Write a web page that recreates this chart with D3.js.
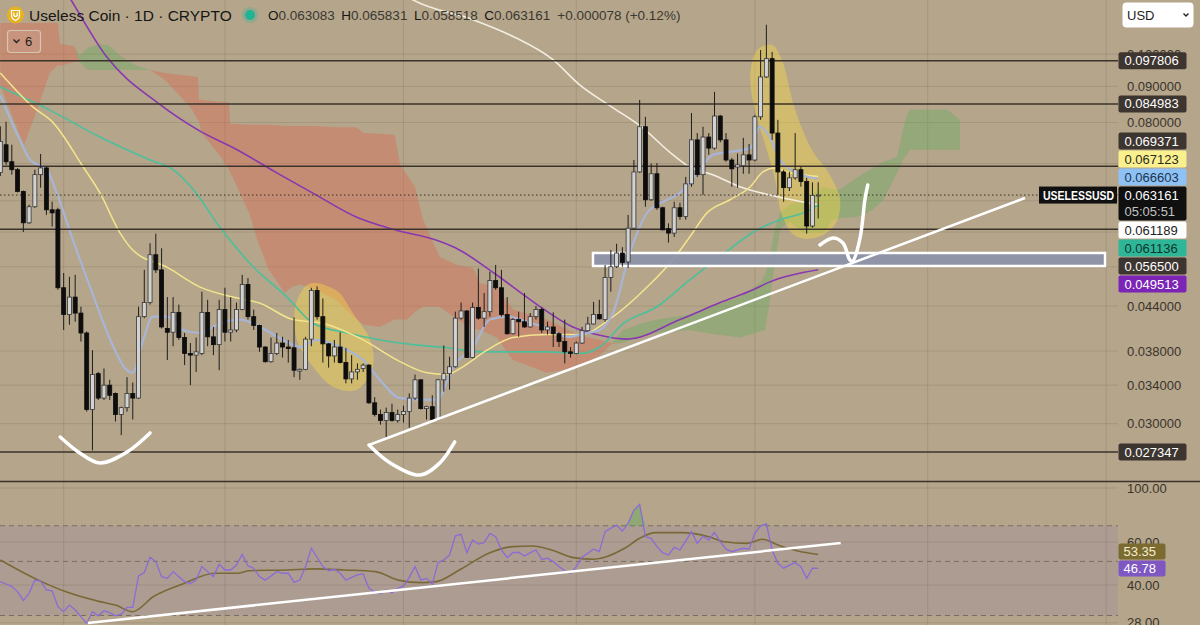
<!DOCTYPE html>
<html>
<head>
<meta charset="utf-8">
<script src="https://cdn.jsdelivr.net/npm/d3@7"></script>
<style>
	html, body { margin: 0; padding: 0; width: 1200px; height: 625px; overflow: hidden; background: #b4a58b; }
	#chart svg { display: block; font-family: 'Liberation Sans', Arial, sans-serif; }
</style>
</head>
<body>
<div id="chart"></div>
<script>
//data
const opens = [0.0680,0.0744,0.0704,0.0686,0.0639,0.0577,0.0608,0.0675,0.0690,0.0602,
	0.0602,0.0467,0.0428,0.0453,0.0430,0.0403,0.0314,0.0353,0.0326,0.0340,
	0.0331,0.0309,0.0316,0.0331,0.0326,0.0425,0.0445,0.0520,0.0495,0.0409,
	0.0404,0.0431,0.0397,0.0377,0.0375,0.0377,0.0431,0.0398,0.0388,0.0435,
	0.0404,0.0407,0.0435,0.0472,0.0425,0.0413,0.0385,0.0367,0.0377,0.0390,
	0.0385,0.0384,0.0356,0.0358,0.0395,0.0463,0.0425,0.0389,0.0374,0.0385,
	0.0366,0.0347,0.0355,0.0359,0.0363,0.0321,0.0309,0.0303,0.0311,0.0303,
	0.0309,0.0312,0.0326,0.0346,0.0315,0.0317,0.0304,0.0346,0.0353,0.0361,
	0.0423,0.0433,0.0372,0.0438,0.0423,0.0432,0.0478,0.0467,0.0428,0.0402,
	0.0421,0.0418,0.0411,0.0425,0.0435,0.0407,0.0411,0.0402,0.0392,0.0379,
	0.0377,0.0390,0.0406,0.0415,0.0428,0.0421,0.0483,0.0500,0.0523,0.0508,
	0.0567,0.0681,0.0789,0.0622,0.0677,0.0606,0.0566,0.0558,0.0606,0.0589,
	0.0655,0.0756,0.0675,0.0763,0.0736,0.0817,0.0756,0.0708,0.0692,0.0695,
	0.0720,0.0708,0.0815,0.0928,0.0985,0.0773,0.0681,0.0647,0.0668,0.0686,
	0.0660,0.0571,0.063083];
const highs = [0.0790,0.0802,0.0744,0.0690,0.0641,0.0612,0.0686,0.0722,0.0692,0.0618,
	0.0606,0.0490,0.0484,0.0487,0.0439,0.0405,0.0381,0.0355,0.0359,0.0346,
	0.0332,0.0317,0.0349,0.0343,0.0439,0.0495,0.0540,0.0557,0.0531,0.0453,
	0.0453,0.0442,0.0403,0.0390,0.0397,0.0461,0.0449,0.0411,0.0449,0.0467,
	0.0453,0.0445,0.0487,0.0482,0.0435,0.0414,0.0386,0.0397,0.0403,0.0398,
	0.0394,0.0424,0.0359,0.0398,0.0467,0.0469,0.0451,0.0390,0.0394,0.0404,
	0.0384,0.0375,0.0365,0.0365,0.0364,0.0327,0.0314,0.0316,0.0320,0.0314,
	0.0318,0.0331,0.0352,0.0346,0.0318,0.0329,0.0347,0.0387,0.0373,0.0432,
	0.0445,0.0434,0.0445,0.0497,0.0459,0.0492,0.0503,0.0495,0.0453,0.0423,
	0.0432,0.0459,0.0430,0.0440,0.0438,0.0418,0.0431,0.0404,0.0421,0.0385,
	0.0392,0.0411,0.0425,0.0446,0.0449,0.0503,0.0528,0.0539,0.0533,0.0592,
	0.0708,0.0861,0.0815,0.0700,0.0701,0.0608,0.0576,0.0618,0.0616,0.0670,
	0.0825,0.0773,0.0789,0.0773,0.0884,0.0820,0.0773,0.0713,0.0723,0.0761,
	0.0746,0.0820,0.1013,0.1100,0.1007,0.0807,0.0686,0.0681,0.0773,0.0692,
	0.0668,0.0658,0.065831];
const lows = [0.0672,0.0697,0.0675,0.0637,0.0560,0.0575,0.0606,0.0647,0.0592,0.0570,
	0.0464,0.0407,0.0414,0.0418,0.0392,0.0312,0.0275,0.0324,0.0324,0.0324,
	0.0302,0.0289,0.0312,0.0304,0.0325,0.0423,0.0442,0.0490,0.0409,0.0369,
	0.0386,0.0394,0.0363,0.0340,0.0355,0.0375,0.0386,0.0375,0.0357,0.0392,
	0.0392,0.0404,0.0434,0.0421,0.0407,0.0379,0.0366,0.0366,0.0375,0.0372,
	0.0366,0.0349,0.0346,0.0357,0.0386,0.0421,0.0366,0.0360,0.0366,0.0365,
	0.0342,0.0342,0.0346,0.0355,0.0320,0.0307,0.0299,0.0287,0.0302,0.0301,
	0.0301,0.0296,0.0324,0.0314,0.0304,0.0303,0.0303,0.0333,0.0335,0.0360,
	0.0421,0.0372,0.0371,0.0421,0.0411,0.0425,0.0464,0.0425,0.0401,0.0401,
	0.0398,0.0410,0.0410,0.0421,0.0403,0.0401,0.0385,0.0385,0.0365,0.0372,
	0.0376,0.0389,0.0405,0.0414,0.0421,0.0418,0.0461,0.0498,0.0500,0.0498,
	0.0564,0.0679,0.0608,0.0620,0.0602,0.0563,0.0541,0.0551,0.0583,0.0583,
	0.0649,0.0670,0.0632,0.0720,0.0732,0.0750,0.0704,0.0649,0.0647,0.0677,
	0.0677,0.0705,0.0807,0.0925,0.0756,0.0632,0.0618,0.0640,0.0664,0.0649,
	0.0557,0.0568,0.058518];
const closes = [0.0752,0.0704,0.0686,0.0639,0.0577,0.0608,0.0675,0.0690,0.0602,0.0596,
	0.0467,0.0428,0.0453,0.0430,0.0403,0.0314,0.0352,0.0326,0.0340,0.0329,
	0.0309,0.0316,0.0331,0.0326,0.0425,0.0445,0.0520,0.0495,0.0411,0.0404,
	0.0431,0.0397,0.0377,0.0375,0.0379,0.0431,0.0398,0.0388,0.0435,0.0404,
	0.0407,0.0435,0.0472,0.0425,0.0413,0.0385,0.0367,0.0377,0.0390,0.0385,
	0.0383,0.0357,0.0358,0.0395,0.0463,0.0425,0.0389,0.0374,0.0385,0.0366,
	0.0347,0.0355,0.0358,0.0363,0.0321,0.0309,0.0303,0.0311,0.0303,0.0309,
	0.0312,0.0326,0.0346,0.0315,0.0317,0.0304,0.0346,0.0353,0.0361,0.0423,
	0.0433,0.0372,0.0438,0.0423,0.0432,0.0478,0.0467,0.0428,0.0402,0.0421,
	0.0418,0.0411,0.0425,0.0435,0.0407,0.0411,0.0402,0.0392,0.0379,0.0377,
	0.0390,0.0406,0.0415,0.0428,0.0422,0.0483,0.0500,0.0523,0.0507,0.0567,
	0.0681,0.0789,0.0622,0.0677,0.0606,0.0564,0.0558,0.0606,0.0589,0.0655,
	0.0756,0.0675,0.0763,0.0736,0.0817,0.0756,0.0708,0.0688,0.0697,0.0720,
	0.0708,0.0815,0.0928,0.0985,0.0773,0.0681,0.0647,0.0668,0.0686,0.0660,
	0.0571,0.0631,0.063161];

const rsiValues = [41.3,40.4,39.4,37.6,34.5,37.0,41.9,41.5,38.2,37.9,
	32.6,31.1,33.1,31.6,29.6,27.9,31.1,29.9,31.4,30.8,
	29.9,30.4,32.4,32.4,43.6,45.0,52.0,49.9,43.3,42.6,
	45.4,43.3,41.3,40.6,41.9,47.6,45.4,43.3,48.7,46.1,
	46.1,48.3,53.4,47.9,46.9,43.3,41.9,43.6,45.4,44.7,
	44.7,41.0,41.9,47.6,56.6,52.0,47.6,45.8,46.4,44.7,
	41.9,43.0,44.0,44.4,38.8,37.4,36.8,38.2,37.2,38.8,
	39.6,43.0,47.6,41.9,42.6,40.4,49.4,50.7,53.1,63.7,
	64.6,54.3,61.2,58.9,59.7,65.2,63.1,55.7,51.8,54.3,
	54.5,52.6,54.3,55.7,51.0,51.5,49.9,47.6,45.7,44.7,
	47.6,52.0,54.0,56.2,54.8,66.2,68.4,70.5,66.6,71.6,
	81.2,85.7,63.1,62.2,57.5,54.3,53.1,57.1,55.7,60.6,
	66.2,59.3,63.5,61.2,65.8,60.2,56.1,54.8,55.7,56.6,
	56.1,65.2,69.9,71.2,55.7,49.1,46.9,48.3,49.4,47.6,
	42.6,46.9,46.78];
const rsiMA = [[0,50.7],[6.6,41.9],[11.3,37.6],[17.3,34.2],[20,33.1],[23,31.1],[26.6,35.9],[31.9,40.6],
	[37.2,44.7],[41.2,44.7],[43.2,45.8],[49.8,46.1],[54.5,46.6],[59.8,46.1],[65.1,45.4],[69.1,41.9],
	[73.1,40.9],[75.7,41.3],[79.7,46.1],[85,54.3],[89,57.5],[92.4,57.8],[95.7,55.7],[99.5,51.8],
	[103,51.0],[108.4,56.6],[111,62.2],[113.7,65.6],[118.4,65.6],[123,63.1],[125.7,60.2],[129.7,59.3],
	[132.3,61.6],[135,58.4],[138.3,55.3],[142,53.35]];

// moving averages: [bar index, price]
const blueMA = [[0,0.0875],[3.4,0.0756],[5.2,0.0708],[8.1,0.0686],[9.8,0.0636],[12.6,0.0546],[15.6,0.0468],
	[19.1,0.0394],[22,0.0357],[23,0.0354],[24.8,0.0394],[26.5,0.0425],[29,0.0425],[31.7,0.0407],[34.7,0.0403],
	[38.1,0.0416],[41.6,0.0421],[45.1,0.0411],[48.1,0.0398],[50.8,0.0388],[52,0.0385],[55,0.0394],[59,0.0385],
	[63,0.0369],[65.9,0.0346],[69.4,0.0326],[75.8,0.0324],[78.6,0.0361],[82.1,0.0385],[85,0.0421],[88,0.0425],
	[91.4,0.0418],[95,0.0409],[98.4,0.0398],[101.9,0.0403],[104.1,0.0407],[106.4,0.0431],[109.3,0.0523],
	[112.3,0.0596],[115.1,0.0618],[118,0.0636],[121,0.0679],[123.7,0.0720],[126.7,0.0727],[130.2,0.0736],
	[131.9,0.0789],[133.6,0.0763],[135.4,0.0708],[138.3,0.0679],[142,0.066603]];
const yellowMA = [[0,0.0940],[5.7,0.0841],[9.2,0.0799],[14.4,0.0692],[17.3,0.0636],[20.8,0.0558],[23,0.0528],
	[29,0.0499],[34.7,0.0468],[40.4,0.0453],[45.1,0.0444],[50.8,0.0421],[56,0.0416],[63,0.0394],[68.9,0.0369],
	[74.1,0.0354],[77.5,0.0352],[80.3,0.0361],[84.5,0.0381],[89,0.0397],[94.9,0.0401],[100.6,0.0401],
	[106.4,0.0425],[112.3,0.0468],[116.8,0.0512],[119.7,0.0551],[122.7,0.0596],[126.7,0.0622],[130.2,0.0649],
	[132.4,0.0681],[134.5,0.0690],[137.1,0.0679],[142,0.067123]];
const tealMA = [[0,0.0898],[8.6,0.0833],[17.3,0.0763],[26,0.0708],[30,0.0686],[33.5,0.0643],[38.1,0.0569],
	[43.9,0.0500],[49.8,0.0453],[54.3,0.0416],[60.2,0.0403],[66,0.0394],[71.7,0.0388],[77.6,0.0384],[83.3,0.0379],
	[95,0.0379],[100.6,0.0377],[104.1,0.0385],[108.1,0.0415],[114,0.0439],[119.7,0.0479],[125.5,0.0521],
	[131.4,0.0564],[135.4,0.0583],[139.4,0.0596],[142,0.061136]];
const purpleMA = [[10,0.128],[12.3,0.1192],[18.5,0.0990],[27.4,0.0852],[34.3,0.0781],[41.1,0.0732],[48,0.0679],
	[54.8,0.0632],[61.8,0.0588],[68.5,0.0564],[75.5,0.0546],[79,0.0532],[85.7,0.0490],[92.7,0.0445],[99.4,0.0411],
	[104.1,0.0400],[108.8,0.0395],[118,0.0421],[125,0.0445],[130.7,0.0464],[133.6,0.0476],[142,0.049513]];
const whiteMA = [[66,0.128],[71.7,0.1192],[82.2,0.1117],[89.2,0.1057],[96,0.0981],[100.6,0.0904],[106.4,0.0839],
	[111.1,0.0791],[116.8,0.0720],[119.7,0.0692],[123.7,0.0675],[128.4,0.0649],[134.2,0.0630],[142,0.061189]];

// ichimoku cloud vertices
const cloudIdx = [0,2,4.1,6.4,8.6,10,10.4,12.8,13.8,15.2,17.3,19,20.8,23.4,26,28.6,33,34.3,34.5,35,
	38.3,39.7,39.9,41.1,43.2,44.6,46.6,49.4,50.6,52,54.8,58.3,61.8,63.1,65.9,68.5,69.4,70.6,72,73.4,
	76.3,79.3,82.1,83.3,86.2,89,94.9,100.6,104.1,106.2,108.1,111.1,114,119.7,124.4,128.4,131.9,132.8,133.6,134.5,
	135.4,137.1,139.4,142.8,144.6,145.8,148.7,151.5,153.3,155.7,156.7,157.4,157.9,164.4,166.6];
const spanA = [0.0904,0.0820,0.0744,0.0834,0.0940,0.0965,0.0962,0.0974,0.0994,0.1020,
	0.1033,0.1026,0.0994,0.0965,0.0949,0.0919,0.0841,0.0807,0.0801,0.0773,
	0.0715,0.0686,0.0681,0.0649,0.0596,0.0546,0.0495,0.0459,0.0468,0.0472,
	0.0464,0.0449,0.0421,0.0414,0.0411,0.0421,0.0421,0.0421,0.0432,0.0439,
	0.0439,0.0421,0.0409,0.0407,0.0397,0.0369,0.0354,0.0361,0.0375,0.0389,
	0.0407,0.0415,0.0421,0.0428,0.0442,0.0453,0.0474,0.0487,0.0516,0.0567,
	0.0598,0.0612,0.0622,0.0649,0.0643,0.0643,0.0668,0.0690,0.0704,0.0715,
	0.0781,0.0820,0.0834,0.0834,0.0807];
const spanB = [0.1106,0.1106,0.1106,0.1106,0.1106,0.1106,0.1033,0.1026,0.0974,0.0949,
	0.0949,0.0949,0.0949,0.0949,0.0949,0.0940,0.0931,0.0928,0.0861,0.0861,
	0.0855,0.0855,0.0796,0.0796,0.0794,0.0794,0.0794,0.0791,0.0791,0.0791,
	0.0791,0.0788,0.0788,0.0773,0.0771,0.0768,0.0697,0.0675,0.0649,0.0583,
	0.0516,0.0503,0.0498,0.0474,0.0468,0.0435,0.0421,0.0400,0.0394,0.0390,
	0.0390,0.0398,0.0403,0.0407,0.0401,0.0397,0.0405,0.0407,0.0449,0.0508,
	0.0567,0.0579,0.0558,0.0558,0.0583,0.0586,0.0588,0.0602,0.0622,0.0679,
	0.0708,0.0720,0.0732,0.0732,0.0732];

// user drawings: [bar index, price]
const horizontalLevels = [0.097806, 0.084983, 0.069371, 0.0565, 0.027347];
const highlightA = [[53.2,0.0471],[51.2,0.0439],[51.5,0.0394],[54.3,0.0361],[57.8,0.0338],[61.9,0.0335],
	[64.7,0.0361],[64.2,0.0394],[61.2,0.0430],[58.9,0.0459],[57.2,0.0468],[55.2,0.0474]];
const highlightB = [[131.4,0.1013],[134,0.1030],[135.7,0.0981],[138,0.0834],[140.9,0.0732],[144,0.0675],
	[145.8,0.0622],[144.9,0.0573],[141.4,0.0549],[138,0.0553],[135.7,0.0592],[134.5,0.0664],[132.8,0.0744],
	[131,0.0834],[130.2,0.0934]];
const trendLine = [[64,0.02798],[177.9,0.06256]];
const supportZone = [[102.9,0.0523],[191.8,0.05013]];
const smileA = [[10.4,0.02872],[13.8,0.02726],[17.3,0.02639],[22,0.02735],[26,0.0291]];
const smileB = [[64,0.02798],[67.7,0.02639],[72.9,0.02537],[76.3,0.02639],[78.9,0.02826]];
const checkMark = [[142.3,0.05368],[144.6,0.05492],[146.3,0.05403],[147.5,0.05112],[148,0.05095],
	[149.3,0.0551],[150.1,0.06215],[150.6,0.06527]];
const rsiTrend = [[15.2,27.95],[145.9,59.49]];

// axis
const priceTicks = [0.1, 0.09, 0.08, 0.07, 0.062, 0.056, 0.05, 0.044, 0.038, 0.034, 0.03];
const rsiTicks = [100, 60, 40, 28];
const rsiLevels = [70, 50, 30];
const monthStarts = [11, 39, 70, 100, 131, 161, 192];
const labelValues = [0.097806, 0.084983, 0.069371, 0.067123, 0.066603, 0.061189, 0.061136, 0.0565, 0.049513, 0.027347];
const labelColors = [
	['#3d3530', '#ffffff'], ['#3d3530', '#ffffff'], ['#3d3530', '#ffffff'],
	['#fbf08e', '#2a2a22'], ['#8fc2f4', '#1b3552'], ['#ffffff', '#222222'],
	['#2fb597', '#0d352b'], ['#3d3530', '#ffffff'], ['#7b24b6', '#ffffff'], ['#3d3530', '#ffffff'],
];

render();

function render() {
	let svg = d3.select('#chart')
		.append('svg')
		.attr('width', 1200)
		.attr('height', 625);

	const x = d3.scaleLinear().domain([0, 142]).range([0.3, 818.2]);
	const y = d3.scaleLog().domain([0.03, 0.1]).range([423.6, 54]);
	const yRsi = d3.scaleLog().domain([28, 100]).range([622.8, 488]);
	const plotRight = 1118;
	const lastIdx = closes.length - 1;
	const lastClose = closes[lastIdx];

	svg.append('rect').attr('width', 1200).attr('height', 625).attr('fill', '#b4a58b');

	let defs = svg.append('defs');
	defs.append('clipPath').attr('id', 'price-clip')
		.append('rect').attr('x', 0).attr('y', 0).attr('width', plotRight).attr('height', 481);
	defs.append('clipPath').attr('id', 'rsi-clip')
		.append('rect').attr('x', 0).attr('y', 482).attr('width', plotRight).attr('height', 143);

	//grid
	let grid = svg.append('g').attr('stroke', 'rgba(70,55,35,0.13)').attr('stroke-width', 1);
	grid.selectAll('.vgrid').data(monthStarts).enter().append('line')
		.attr('x1', (d) => x(d)).attr('x2', (d) => x(d))
		.attr('y1', 0).attr('y2', 625);
	grid.selectAll('.hgrid').data(priceTicks).enter().append('line')
		.attr('x1', 0).attr('x2', plotRight)
		.attr('y1', (d) => y(d)).attr('y2', (d) => y(d));
	grid.selectAll('.rgrid').data(rsiTicks).enter().append('line')
		.attr('x1', 0).attr('x2', plotRight)
		.attr('y1', (d) => yRsi(d)).attr('y2', (d) => yRsi(d));

	//price pane
	let pane = svg.append('g').attr('clip-path', 'url(#price-clip)');

	const cloudRows = cloudIdx.map((d, k) => [d, spanA[k], spanB[k]]);
	const cloud = (pick) => d3.area()
		.x((d) => x(d[0]))
		.y0((d) => y(d[2]))
		.y1((d) => y(pick(d[1], d[2])));
	pane.append('path').attr('d', cloud(Math.min)(cloudRows))
		.attr('fill', '#e4614a').attr('fill-opacity', 0.36);
	pane.append('path').attr('d', cloud(Math.max)(cloudRows))
		.attr('fill', '#4caf50').attr('fill-opacity', 0.3);

	const blob = d3.line().x((d) => x(d[0])).y((d) => y(d[1])).curve(d3.curveCatmullRomClosed);
	pane.selectAll('.highlight').data([highlightA, highlightB]).enter().append('path')
		.attr('d', blob)
		.attr('fill', '#ffe040')
		.attr('fill-opacity', 0.38);

	const maLine = d3.line().x((d) => x(d[0])).y((d) => y(d[1])).curve(d3.curveMonotoneX);
	const averages = [
		[whiteMA, '#f3eee0', 1.6],
		[purpleMA, '#8a37b0', 1.6],
		[tealMA, '#4cbf9b', 1.6],
		[yellowMA, '#f4e48c', 1.5],
		[blueMA, '#a8b5d6', 2.2],
	];
	pane.selectAll('.ma').data(averages).enter().append('path')
		.attr('d', (d) => maLine(d[0]))
		.attr('fill', 'none')
		.attr('stroke', (d) => d[1])
		.attr('stroke-width', (d) => d[2]);

	pane.selectAll('.level').data(horizontalLevels).enter().append('line')
		.attr('x1', 0).attr('x2', plotRight)
		.attr('y1', (d) => y(d)).attr('y2', (d) => y(d))
		.attr('stroke', '#3b332b')
		.attr('stroke-width', 1.5);

	pane.append('line')
		.attr('x1', 0).attr('x2', plotRight)
		.attr('y1', y(lastClose)).attr('y2', y(lastClose))
		.attr('stroke', '#3b332b')
		.attr('stroke-width', 1)
		.attr('stroke-dasharray', '1.5,2.5');

	pane.append('rect')
		.attr('x', x(supportZone[0][0]))
		.attr('y', y(supportZone[0][1]))
		.attr('width', x(supportZone[1][0]) - x(supportZone[0][0]))
		.attr('height', y(supportZone[1][1]) - y(supportZone[0][1]))
		.attr('fill', '#8d92a9')
		.attr('fill-opacity', 0.92)
		.attr('stroke', '#ffffff')
		.attr('stroke-width', 2.5);

	//candles
	let candles = pane.selectAll('.candle').data(d3.range(closes.length)).enter().append('g');
	candles.append('line')
		.attr('x1', (i) => x(i)).attr('x2', (i) => x(i))
		.attr('y1', (i) => y(highs[i])).attr('y2', (i) => y(lows[i]))
		.attr('stroke', '#1e1e1e')
		.attr('stroke-width', 1);
	candles.append('rect')
		.attr('x', (i) => x(i) - 2)
		.attr('width', 4)
		.attr('y', (i) => y(Math.max(opens[i], closes[i])))
		.attr('height', (i) => Math.max(1, Math.abs(y(opens[i]) - y(closes[i]))))
		.attr('fill', (i) => (closes[i] >= opens[i] ? '#d2d2d2' : '#0d0d0d'))
		.attr('stroke', (i) => (closes[i] >= opens[i] ? '#363636' : '#0d0d0d'))
		.attr('stroke-width', 0.8);

	//drawings
	const straight = d3.line().x((d) => x(d[0])).y((d) => y(d[1]));
	const curved = d3.line().x((d) => x(d[0])).y((d) => y(d[1])).curve(d3.curveCatmullRom);
	pane.append('path').attr('d', straight(trendLine))
		.attr('stroke', '#ffffff').attr('stroke-width', 2.5).attr('fill', 'none');
	pane.selectAll('.pen').data([smileA, smileB, checkMark]).enter().append('path')
		.attr('d', curved)
		.attr('fill', 'none')
		.attr('stroke', '#ffffff')
		.attr('stroke-width', 3.5)
		.attr('stroke-linecap', 'round')
		.attr('stroke-linejoin', 'round');

	//rsi pane
	let rsi = svg.append('g').attr('clip-path', 'url(#rsi-clip)');
	rsi.append('rect')
		.attr('x', 0).attr('width', plotRight)
		.attr('y', yRsi(70)).attr('height', yRsi(30) - yRsi(70))
		.attr('fill', '#7e57c2').attr('fill-opacity', 0.12);
	rsi.selectAll('.band').data(rsiLevels).enter().append('line')
		.attr('x1', 0).attr('x2', plotRight)
		.attr('y1', (d) => yRsi(d)).attr('y2', (d) => yRsi(d))
		.attr('stroke', '#786e60')
		.attr('stroke-width', 1)
		.attr('stroke-dasharray', '5,4');

	rsi.append('path')
		.attr('d', d3.area()
			.x((d, i) => x(i))
			.y0(yRsi(70))
			.y1((d) => yRsi(Math.max(d, 70)))(rsiValues))
		.attr('fill', '#4caf50').attr('fill-opacity', 0.35);

	rsi.append('path')
		.attr('d', d3.line().x((d) => x(d[0])).y((d) => yRsi(d[1])).curve(d3.curveMonotoneX)(rsiMA))
		.attr('fill', 'none').attr('stroke', '#7a6936').attr('stroke-width', 1.6);
	rsi.append('path')
		.attr('d', d3.line().x((d, i) => x(i)).y((d) => yRsi(d))(rsiValues))
		.attr('fill', 'none').attr('stroke', '#8a6bd8').attr('stroke-width', 1.3);
	rsi.append('path')
		.attr('d', d3.line().x((d) => x(d[0])).y((d) => yRsi(d[1]))(rsiTrend))
		.attr('fill', 'none').attr('stroke', '#ffffff').attr('stroke-width', 2.5);

	svg.append('line')
		.attr('x1', 0).attr('x2', 1200).attr('y1', 481.5).attr('y2', 481.5)
		.attr('stroke', '#3b332b').attr('stroke-width', 1.5);

	// stacked labels, pushed away from the live price label
	const labelH = 17;
	const curY = y(lastClose);
	const curTop = curY - 8.5;
	const curBottom = curTop + 34;
	let marks = labelValues.map((v, k) => ({ v: v, k: k }));
	let edge = curTop;
	marks.filter((d) => d.v > lastClose).sort((a, b) => a.v - b.v).forEach((d) => {
		d.cy = Math.min(y(d.v), edge - 1 - labelH / 2);
		edge = d.cy - labelH / 2;
	});
	edge = curBottom;
	marks.filter((d) => d.v < lastClose).sort((a, b) => b.v - a.v).forEach((d) => {
		d.cy = Math.max(y(d.v), edge + 1 + labelH / 2);
		edge = d.cy + labelH / 2;
	});

	const rsiLast = rsiValues[rsiValues.length - 1];
	const maLast = rsiMA[rsiMA.length - 1][1];
	const rsiY = yRsi(rsiLast);
	const maY = Math.min(yRsi(maLast), rsiY - 8 - 1 - 8);

	// tick labels sitting mostly under a label are hidden, as the platform does
	let boxes = marks.map((d) => [d.cy - labelH / 2, d.cy + labelH / 2]);
	boxes.push([curTop, curBottom], [maY - 8, maY + 8], [rsiY - 8, rsiY + 8]);
	const covered = (ty) => boxes.some((b) => ty > b[0] + 3 && ty < b[1] - 3);

	//axis
	let axis = svg.append('g').style('font-size', '13px');
	axis.selectAll('.ptick').data(priceTicks.filter((d) => !covered(y(d)))).enter().append('text')
		.attr('x', 1127).attr('y', (d) => y(d) + 4.5)
		.attr('fill', '#3a342c')
		.text(d3.format('.6f'));
	axis.selectAll('.rtick').data(rsiTicks.filter((d) => !covered(yRsi(d)))).enter().append('text')
		.attr('x', 1127).attr('y', (d) => yRsi(d) + 4.5)
		.attr('fill', '#3a342c')
		.text(d3.format('.2f'));

	let tags = axis.selectAll('.tag').data(marks).enter().append('g');
	tags.append('rect')
		.attr('x', 1118.5).attr('y', (d) => d.cy - labelH / 2)
		.attr('width', 68).attr('height', labelH).attr('rx', 2)
		.attr('fill', (d) => labelColors[d.k][0]);
	tags.append('text')
		.attr('x', 1124.5).attr('y', (d) => d.cy + 4.5)
		.attr('fill', (d) => labelColors[d.k][1])
		.text((d) => d3.format('.6f')(d.v));

	axis.append('rect')
		.attr('x', 1118.5).attr('y', curTop).attr('width', 68).attr('height', 34).attr('rx', 2)
		.attr('fill', '#101010');
	axis.append('text').attr('x', 1124.5).attr('y', curY + 4.5).attr('fill', '#ffffff')
		.text(d3.format('.6f')(lastClose));
	axis.append('text').attr('x', 1124.5).attr('y', curY + 21).attr('fill', '#c4c4c4')
		.text('05:05:51');
	axis.append('rect')
		.attr('x', 1039).attr('y', curTop).attr('width', 78).attr('height', 17)
		.attr('fill', '#101010');
	axis.append('text').attr('x', 1043).attr('y', curY + 4.5).attr('fill', '#ffffff')
		.style('font-size', '12px').style('font-weight', 'bold')
		.attr('textLength', 71).attr('lengthAdjust', 'spacingAndGlyphs')
		.text('USELESSUSD');

	[[maY, maLast, '#7b6b31', '#f5eecf'], [rsiY, rsiLast, '#7e57c2', '#ffffff']].forEach((d) => {
		axis.append('rect')
			.attr('x', 1118.5).attr('y', d[0] - 8).attr('width', 47).attr('height', 16).attr('rx', 2)
			.attr('fill', d[2]);
		axis.append('text').attr('x', 1123.5).attr('y', d[0] + 4.5).attr('fill', d[3])
			.text(d3.format('.2f')(d[1]));
	});

	//header
	let head = svg.append('g');
	head.append('circle').attr('cx', 15.5).attr('cy', 15).attr('r', 8.5).attr('fill', '#e8b21f');
	head.append('path')
		.attr('d', 'M11.5,10.5 L19.5,10.5 L19.5,15 Q19.5,19 15.5,20.5 Q11.5,19 11.5,15 Z M13.8,12.5 L13.8,15.5 Q15.5,17.5 17.2,15.5 L17.2,12.5')
		.attr('fill', 'none').attr('stroke', '#ffffff').attr('stroke-width', 1.2);
	head.append('text').attr('x', 29).attr('y', 20.5)
		.style('font-size', '15.5px').attr('fill', '#161616')
		.text('Useless Coin · 1D · CRYPTO');
	head.append('circle').attr('cx', 250).attr('cy', 15).attr('r', 8).attr('fill', '#22b394').attr('fill-opacity', 0.25);
	head.append('circle').attr('cx', 250).attr('cy', 15).attr('r', 5).attr('fill', '#22b394');

	const ohlc = [['O', opens[lastIdx]], ['H', highs[lastIdx]], ['L', lows[lastIdx]], ['C', closes[lastIdx]]];
	let legend = head.append('text').attr('x', 268).attr('y', 20).style('font-size', '13.5px');
	ohlc.forEach((d, k) => {
		legend.append('tspan').attr('dx', k ? 6.5 : 0).attr('fill', '#161616').text(d[0]);
		legend.append('tspan').attr('fill', '#3b3831').text(d3.format('.6f')(d[1]));
	});
	const change = closes[lastIdx] - opens[lastIdx];
	legend.append('tspan').attr('dx', 7).attr('fill', '#3b3831')
		.text('+' + d3.format('.6f')(change) + ' (+' + d3.format('.2f')(change / opens[lastIdx] * 100) + '%)');

	head.append('rect').attr('x', 7.5).attr('y', 30.5).attr('width', 33).attr('height', 22).attr('rx', 3)
		.attr('fill', 'rgba(255,255,255,0.07)').attr('stroke', '#d3c7b2').attr('stroke-width', 1.2);
	head.append('path').attr('d', 'M13.5,39.5 L16.5,42.5 L19.5,39.5')
		.attr('fill', 'none').attr('stroke', '#1e1e1e').attr('stroke-width', 1.3);
	head.append('text').attr('x', 25).attr('y', 46).style('font-size', '13px').attr('fill', '#1e1e1e').text('6');

	head.append('rect').attr('x', 1122.5).attr('y', 2.5).attr('width', 71).attr('height', 25).attr('rx', 4)
		.attr('fill', '#ffffff');
	head.append('text').attr('x', 1127).attr('y', 20).style('font-size', '13px').attr('fill', '#1e1e1e').text('USD');
	head.append('path').attr('d', 'M1183.5,13.5 L1186,16 L1188.5,13.5')
		.attr('fill', 'none').attr('stroke', '#1e1e1e').attr('stroke-width', 1.3);
}
</script>
</body>
</html>
